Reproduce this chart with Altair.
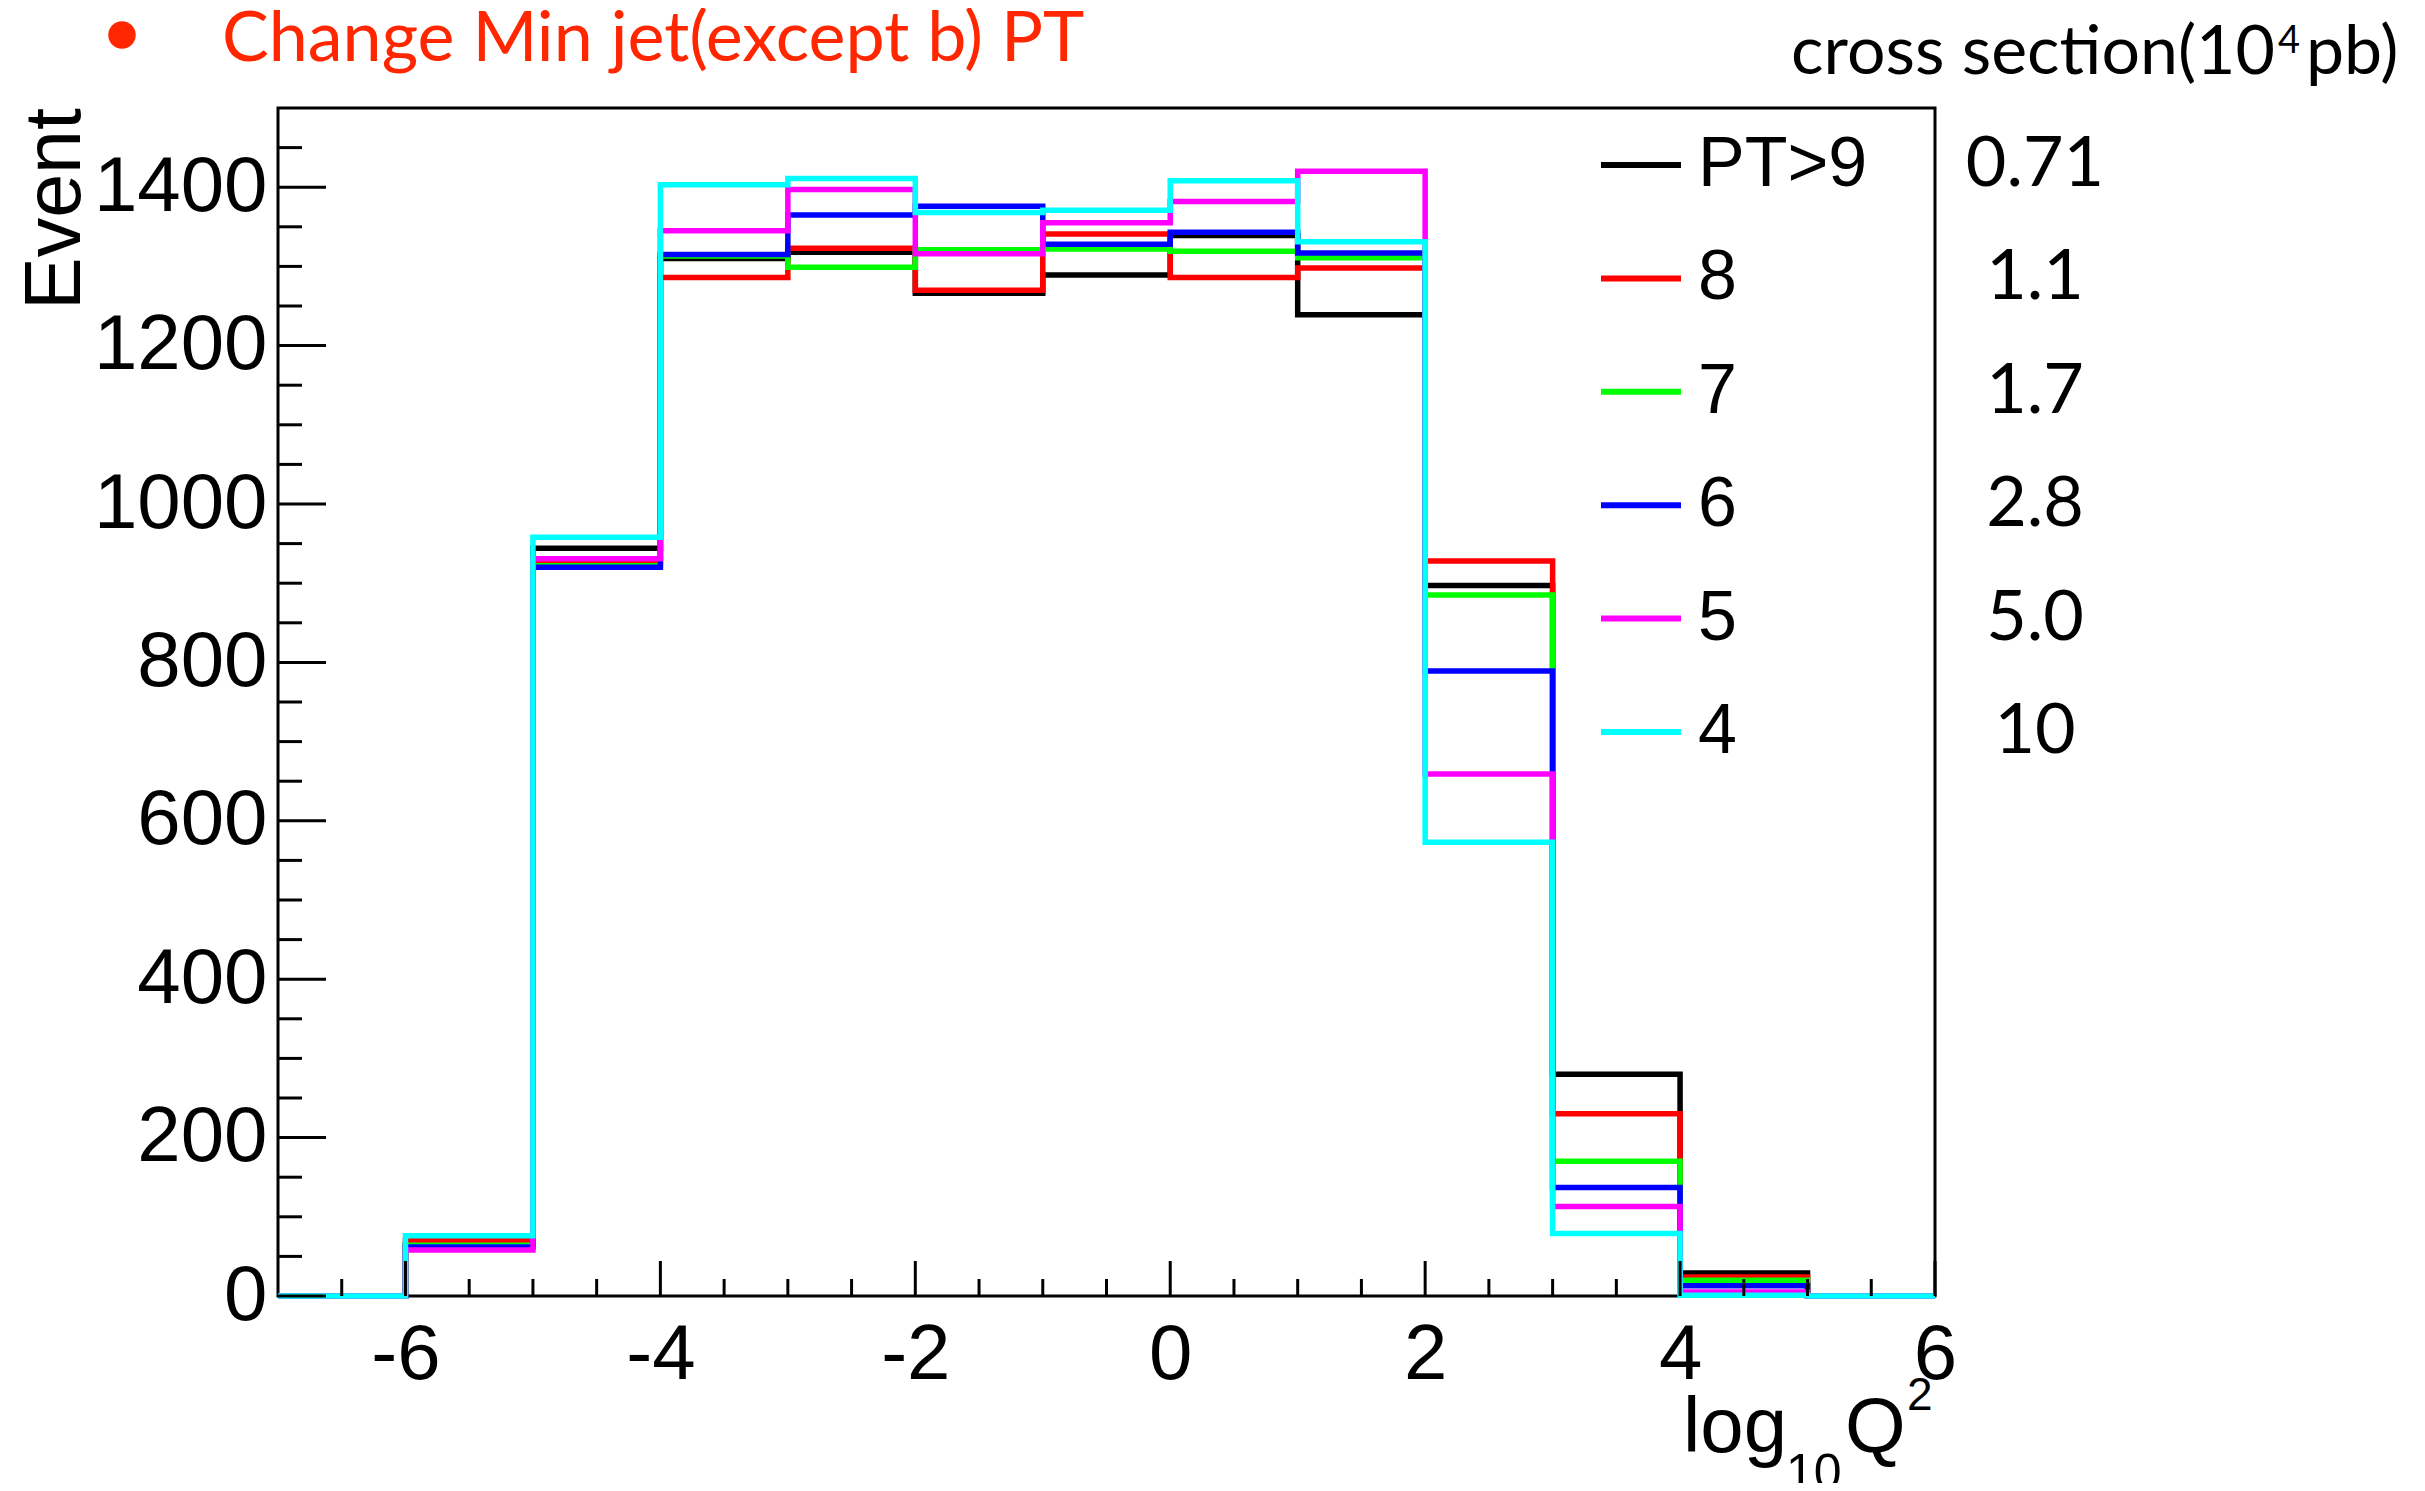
import altair as alt
import pandas as pd

# ---------------- data ----------------
bin_edges = [-7, -6, -5, -4, -3, -2, -1, 0, 1, 2, 3, 4, 5, 6]
series_names = ["PT>9", "8", "7", "6", "5", "4"]
series_colors = ["#000000", "#ff0000", "#00ff00", "#0000ff", "#ff00ff", "#00ffff"]
cross_sections = ["0.71", "1.1", "1.7", "2.8", "5.0", "10"]

counts_pt9 = [0, 65, 944, 1310, 1318, 1266, 1289, 1339, 1239, 897, 280, 29, 0]
counts_pt8 = [0, 70, 926, 1286, 1323, 1270, 1341, 1286, 1298, 928, 230, 24, 0]
counts_pt7 = [0, 64, 922, 1313, 1299, 1321, 1322, 1319, 1311, 885, 170, 20, 0]
counts_pt6 = [0, 62, 920, 1315, 1365, 1376, 1328, 1343, 1317, 789, 137, 13, 0]
counts_pt5 = [0, 58, 931, 1345, 1397, 1316, 1355, 1382, 1420, 659, 113, 5, 0]
counts_pt4 = [0, 76, 958, 1403, 1411, 1368, 1371, 1408, 1331, 573, 79, 1, 0]
all_counts = [counts_pt9, counts_pt8, counts_pt7, counts_pt6, counts_pt5, counts_pt4]

x_major_ticks = [-6, -4, -2, 0, 2, 4, 6]
x_minor_ticks = [-6.5, -5.5, -5, -4.5, -3.5, -3, -2.5, -1.5, -1, -0.5,
                 0.5, 1, 1.5, 2.5, 3, 3.5, 4.5, 5, 5.5]
y_major_ticks = [0, 200, 400, 600, 800, 1000, 1200, 1400]
y_minor_ticks = [50, 100, 150, 250, 300, 350, 450, 500, 550, 650, 700, 750,
                 850, 900, 950, 1050, 1100, 1150, 1250, 1300, 1350, 1450]

title_text = "Change Min jet(except b) PT"
y_title = "Event"
xsec_header = ["cross section(10", "4", "pb)"]
x_title = ["log", "10", "Q", "2"]

# ---------------- layout / style ----------------
W, H = 1657, 1188
RED = "#ff2600"
HELV = "Liberation Sans"
GILL = "Lato"
X_SCALE = alt.Scale(domain=[-7, 6], nice=False, zero=False)
Y_SCALE = alt.Scale(domain=[0, 1500], nice=False, zero=True)
LEG_TOP, LEG_GAP = 57, 113.4

X_AXIS = alt.Axis(values=x_major_ticks, labelExpr="datum.value + ''", labelFont=HELV,
                  labelFontSize=78, labelColor="black", labelPadding=20, ticks=False,
                  tickSize=0, domain=False, grid=False, title=None, labelFlush=False,
                  labelOverlap=False, labelAngle=0, labelLimit=0)
Y_AXIS = alt.Axis(values=y_major_ticks, labelExpr="datum.value + ''", labelFont=HELV,
                  labelFontSize=78, labelColor="black", labelPadding=11, ticks=False,
                  tickSize=0, domain=False, grid=False, title=None, labelFlush=False,
                  labelOverlap=False, labelLimit=0)

layers = []

# histograms (step lines)
for name, color, cnts in zip(series_names, series_colors, all_counts):
    df = pd.DataFrame({"x": bin_edges, "y": cnts + [cnts[-1]]})
    layers.append(
        alt.Chart(df).mark_line(interpolate="step-after", color=color,
                                strokeWidth=5.5, strokeJoin="miter")
        .encode(x=alt.X("x:Q", scale=X_SCALE, axis=X_AXIS),
                y=alt.Y("y:Q", scale=Y_SCALE, axis=Y_AXIS))
    )

# inward ticks
def xticks(vals, length):
    return alt.Chart(pd.DataFrame({"x": vals})).mark_rule(color="black", strokeWidth=3).encode(
        x=alt.X("x:Q", scale=X_SCALE, axis=X_AXIS), y=alt.value(H), y2=alt.value(H - length))

def yticks(vals, length):
    return alt.Chart(pd.DataFrame({"y": vals})).mark_rule(color="black", strokeWidth=3).encode(
        y=alt.Y("y:Q", scale=Y_SCALE, axis=Y_AXIS), x=alt.value(0), x2=alt.value(length))

layers += [xticks(x_major_ticks, 35), xticks(x_minor_ticks, 17),
           yticks(y_major_ticks, 48), yticks(y_minor_ticks, 24)]

one = pd.DataFrame({"a": [0]})

def text(t, x, y, size, font, color="black", align="left", baseline="alphabetic", angle=0):
    return alt.Chart(one).mark_text(text=t, fontSize=size, font=font, color=color,
                                    align=align, baseline=baseline, angle=angle).encode(
        x=alt.value(x), y=alt.value(y))

# legend (custom, ROOT style)
for i, (name, color, xs) in enumerate(zip(series_names, series_colors, cross_sections)):
    yy = LEG_TOP + i * LEG_GAP
    layers.append(alt.Chart(one).mark_rule(color=color, strokeWidth=6).encode(
        x=alt.value(1323), x2=alt.value(1403), y=alt.value(yy)))
    layers.append(text(name, 1420, yy, 70, HELV, baseline="middle"))
    layers.append(text(xs, 1757, yy, 70, GILL, align="center", baseline="middle"))

# cross-section header
layers.append(text(xsec_header[0], 1997, -34, 68, GILL, align="right"))
layers.append(text(xsec_header[1], 2000, -55, 38, GILL))
layers.append(text(xsec_header[2], 2028, -34, 68, GILL))

# title with bullet
layers.append(alt.Chart(one).mark_point(filled=True, shape="circle", size=755,
                                        color=RED, opacity=1).encode(
    x=alt.value(-156), y=alt.value(-73)))
layers.append(text(title_text, -56, -47, 70, GILL, color=RED))

# y title
layers.append(text(y_title, -198, 0, 79, HELV, align="right", angle=270))

# x title  log_{10} Q^2
layers.append(text(x_title[0], 1405, 1344, 78, HELV))
layers.append(text(x_title[1], 1508, 1381, 50, HELV))
layers.append(text(x_title[2], 1567, 1344, 78, HELV))
layers.append(text(x_title[3], 1629, 1302, 46, HELV))

chart = alt.layer(*layers).properties(
    width=W, height=H,
    autosize=alt.AutoSizeParams(type="none"),
    padding={"left": 270, "top": 100, "right": 482, "bottom": 187},
    background="white",
).configure_view(stroke="black", strokeWidth=3)

chart.save("out.html", embed_options={"renderer": "svg", "actions": False})
